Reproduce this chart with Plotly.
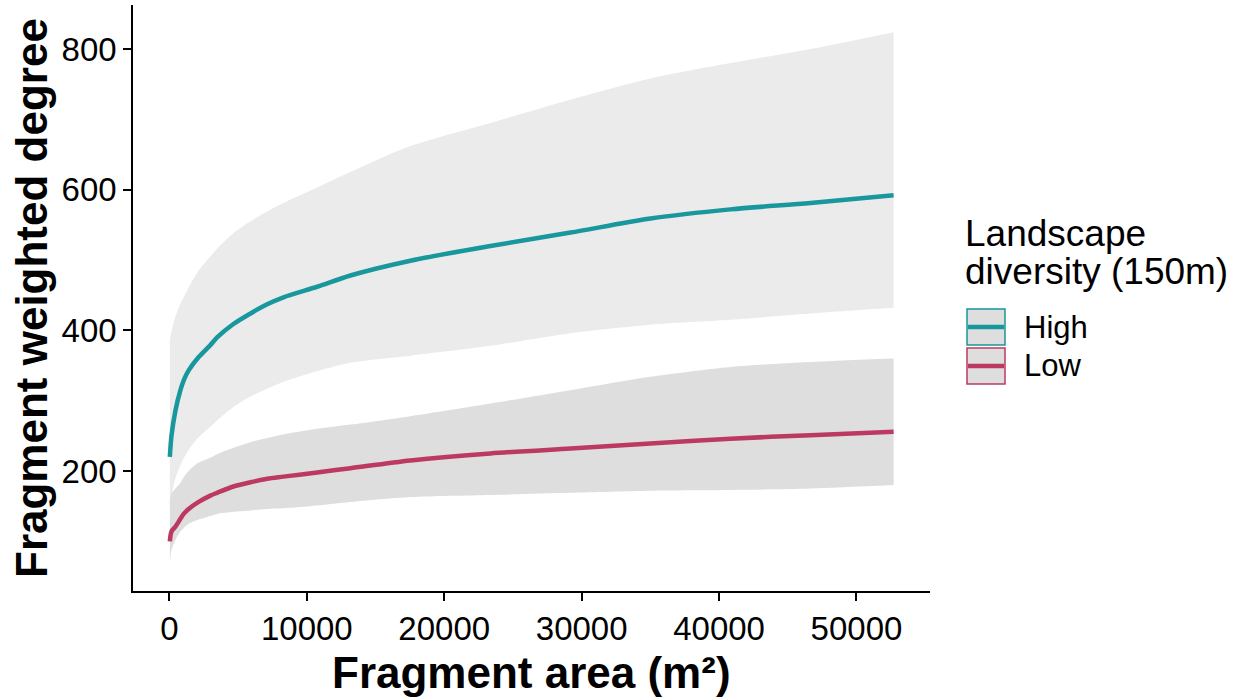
import plotly.graph_objects as go

# Fragment area (m²) at which the model predictions are evaluated
area = [30, 150, 440, 800, 1040, 1400, 2130, 2980, 3470, 4660, 5900, 7110,
        8300, 10750, 13170, 17540, 23360, 29190, 35010, 40830, 46650, 52700]

# High landscape diversity: fitted weighted degree and confidence band
high_fit = [220, 250, 286, 315, 329, 343, 362, 379, 390, 409, 424, 437,
            447, 462, 478, 499, 520, 539, 559, 572, 581, 592]
high_upper = [386, 398, 420, 438, 447, 461, 485, 505, 516, 538, 555, 569,
              581, 603, 625, 662, 695, 728, 758, 780, 800, 824]
high_lower = [150, 165, 190, 208, 218, 230, 248, 263, 272, 291, 306, 317,
              327, 342, 354, 364, 378, 396, 408, 415, 424, 432]

# Low landscape diversity: fitted weighted degree and confidence band
low_fit = [100, 114, 121, 132, 139, 146, 156, 165, 169, 178, 184, 189,
           192, 198, 204, 215, 225, 232, 239, 246, 251, 256]
low_upper = [160, 168, 175, 183, 191, 200, 212, 219, 224, 233, 241, 247,
             252, 260, 266, 278, 296, 315, 334, 348, 355, 360]
low_lower = [68, 88, 102, 114, 119, 125, 131, 136, 139, 142, 144, 146,
             147, 151, 156, 163, 166, 169, 172, 173, 175, 180]

x_ticks = [0, 10000, 20000, 30000, 40000, 50000]
y_ticks = [200, 400, 600, 800]

groups = ["High", "Low"]
line_colors = {"High": "#18979c", "Low": "#bc3a62"}
band_colors = {"High": "#ebebeb", "Low": "#dedede"}

FONT = "Liberation Sans, Arial, sans-serif"
W, H = 1239, 700
L, R, T, B = 133, 930, 5, 591  # plot area edges in pixels

fig = go.Figure()

series = {
    "High": (high_fit, high_lower, high_upper),
    "Low": (low_fit, low_lower, low_upper),
}

# Confidence ribbons: lower edge, then upper edge filled down to it
for g in groups:
    fit, lo, hi = series[g]
    fig.add_trace(go.Scatter(
        x=area, y=lo, mode="lines",
        line=dict(width=0, shape="spline", smoothing=0.8, color=band_colors[g]),
        hoverinfo="skip", showlegend=False,
    ))
    fig.add_trace(go.Scatter(
        x=area, y=hi, mode="lines", fill="tonexty", fillcolor=band_colors[g],
        line=dict(width=0, shape="spline", smoothing=0.8, color=band_colors[g]),
        hoverinfo="skip", showlegend=False,
    ))

# Fitted lines
for g in groups:
    fit, lo, hi = series[g]
    fig.add_trace(go.Scatter(
        x=area, y=fit, mode="lines",
        line=dict(color=line_colors[g], width=4.5, shape="spline", smoothing=0.8),
        name=g, showlegend=False,
    ))


def px_x(p):
    return (p - L) / (R - L)


def px_y(p):
    return (B - p) / (B - T)


annotations = [
    dict(text="<b>Fragment area (m²)</b>", x=0.5, y=px_y(672),
         xref="paper", yref="paper", showarrow=False,
         font=dict(family=FONT, size=44, color="black"),
         xanchor="center", yanchor="middle"),
    dict(text="<b>Fragment weighted degree</b>", x=px_x(31), y=0.5,
         xref="paper", yref="paper", showarrow=False, textangle=-90,
         font=dict(family=FONT, size=44, color="black"),
         xanchor="center", yanchor="middle"),
    dict(text="Landscape", x=px_x(963), y=px_y(233),
         xref="paper", yref="paper", showarrow=False,
         font=dict(family=FONT, size=37, color="black"),
         xanchor="left", yanchor="middle"),
    dict(text="diversity (150m)", x=px_x(963), y=px_y(271),
         xref="paper", yref="paper", showarrow=False,
         font=dict(family=FONT, size=37, color="black"),
         xanchor="left", yanchor="middle"),
]

shapes = []
key_rows = {"High": 327, "Low": 366}
for g in groups:
    yc = key_rows[g]
    shapes.append(dict(type="rect", xref="paper", yref="paper",
                       x0=px_x(967), x1=px_x(1005), y0=px_y(yc - 18), y1=px_y(yc + 18),
                       fillcolor="#dedede", line=dict(color=line_colors[g], width=1.5)))
    shapes.append(dict(type="line", xref="paper", yref="paper",
                       x0=px_x(968), x1=px_x(1004), y0=px_y(yc), y1=px_y(yc),
                       line=dict(color=line_colors[g], width=4.5)))
    annotations.append(dict(text=g, x=px_x(1022), y=px_y(yc),
                            xref="paper", yref="paper", showarrow=False,
                            font=dict(family=FONT, size=31, color="black"),
                            xanchor="left", yanchor="middle"))

axis_common = dict(
    showgrid=False, zeroline=False, showline=True,
    linecolor="black", linewidth=1.5,
    ticks="outside", ticklen=8, tickwidth=1.5, tickcolor="black",
    tickfont=dict(family=FONT, size=33, color="black"),
)

fig.update_layout(
    width=W, height=H,
    margin=dict(l=L, r=W - R, t=T, b=H - B),
    plot_bgcolor="white", paper_bgcolor="white",
    xaxis=dict(range=[-2650, 55350], tickvals=x_ticks,
               ticktext=[str(v) for v in x_ticks], **axis_common),
    yaxis=dict(range=[29.4, 862.6], tickvals=y_ticks,
               ticktext=[str(v) for v in y_ticks], **axis_common),
    annotations=annotations,
    shapes=shapes,
    showlegend=False,
)

fig.write_html("out.html")
